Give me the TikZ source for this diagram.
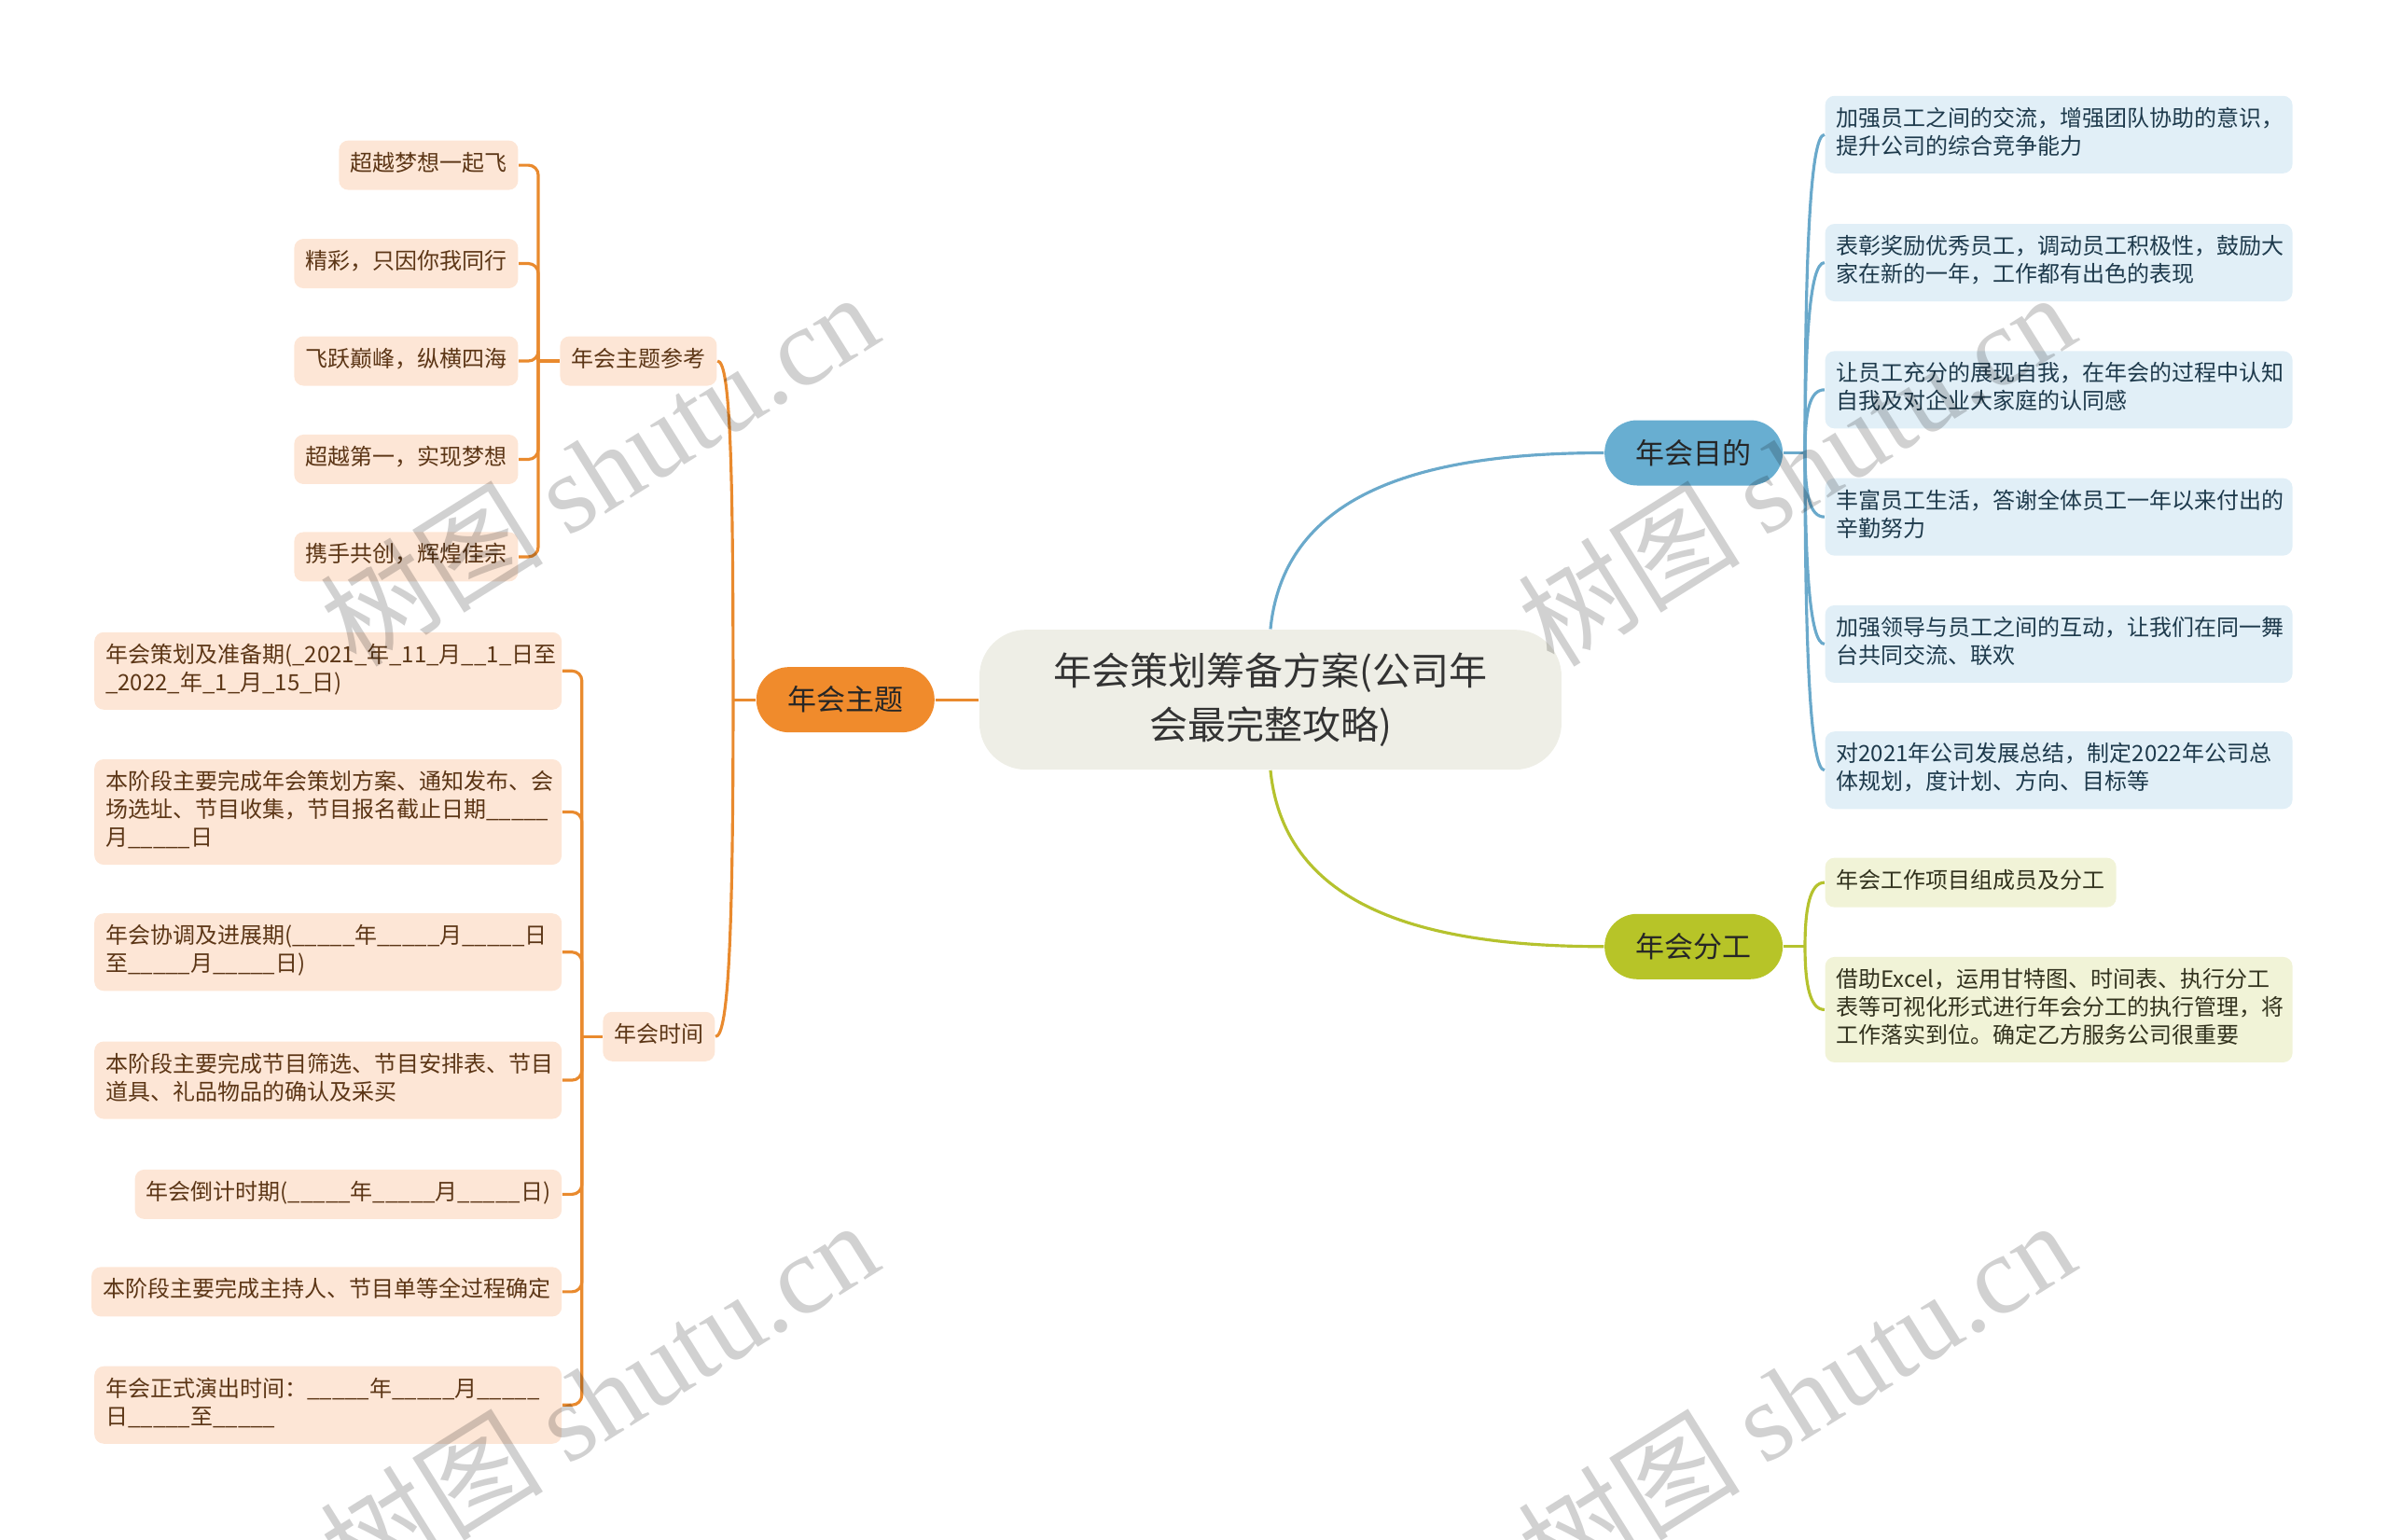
\documentclass[tikz,border=0pt]{standalone}
\usepackage{fontspec}
\setmainfont{Noto Sans CJK SC}
\newfontfamily\wmfont{Liberation Serif}
\usepackage{tikz}
\usetikzlibrary{positioning}
\setlength{\parindent}{0pt}
\definecolor{rootfill}{RGB}{238, 238, 230}
\definecolor{themecolor}{RGB}{240, 139, 44}
\definecolor{themeedge}{RGB}{233, 138, 46}
\definecolor{themelight}{RGB}{253, 230, 214}
\definecolor{themetext}{RGB}{92, 54, 22}
\definecolor{goalcolor}{RGB}{104, 174, 209}
\definecolor{goaledge}{RGB}{106, 169, 203}
\definecolor{goallight}{RGB}{225, 239, 247}
\definecolor{goaltext}{RGB}{30, 58, 76}
\definecolor{taskcolor}{RGB}{183, 196, 40}
\definecolor{taskedge}{RGB}{181, 194, 46}
\definecolor{tasklight}{RGB}{241, 243, 215}
\definecolor{tasktext}{RGB}{50, 50, 30}
\newcommand{\blk}{\_\_\_\_\_}

\begin{document}
\begin{tikzpicture}[
    x=0.00995cm, y=-0.00995cm,
    root/.style={fill=rootfill, rounded corners=0.5cm, minimum width=6.24cm, minimum height=1.5cm, align=center, text=black!80, font=\fontsize{11.67pt}{16.5pt}\selectfont},
    hub/.style={rounded corners=0.35cm, minimum width=1.91cm, minimum height=0.7cm, text=black!85, font=\fontsize{8.82pt}{10pt}\selectfont},
    leaf/.style={rounded corners=0.1cm, inner xsep=0.12cm, inner ysep=0.115cm, align=left, font=\fontsize{6.83pt}{8.54pt}\selectfont, execute at begin node=\strut, execute at end node=\strut},
    wide/.style={text width=4.77cm},
    themeleaf/.style={leaf, fill=themelight, text=themetext},
    goalleaf/.style={leaf, wide, fill=goallight, text=goaltext},
    taskleaf/.style={leaf, fill=tasklight, text=tasktext},
    themeline/.style={draw=themeedge, line width=0.9pt, rounded corners=3pt},
    goalline/.style={draw=goaledge, line width=0.9pt},
    taskline/.style={draw=taskedge, line width=0.9pt},
    watermark/.style={rotate=32, text=black, text opacity=0.18, font=\fontsize{34pt}{40pt}\selectfont}
]
    \useasboundingbox (0cm,0cm) rectangle (25.6cm,-16.5cm);

    % Root and main branches
    \node[root] (root) at (1369,754) {年会策划筹备方案(公司年\\会最完整攻略)};
    \node[hub, fill=themecolor] (theme) at (911,754) {年会主题};
    \node[hub, fill=goalcolor] (goal) at (1825,488) {年会目的};
    \node[hub, fill=taskcolor] (task) at (1825,1020) {年会分工};

    % Theme sub-branches
    \node[themeleaf] (ref) at (688,389) {年会主题参考};
    \node[themeleaf] (time) at (710,1117) {年会时间};

    % Theme references
    \node[themeleaf, anchor=east] (r1) at (559,178) {超越梦想一起飞};
    \node[themeleaf, anchor=east] (r2) at (559,284) {精彩，只因你我同行};
    \node[themeleaf, anchor=east] (r3) at (559,389) {飞跃巅峰，纵横四海};
    \node[themeleaf, anchor=east] (r4) at (559,495) {超越第一，实现梦想};
    \node[themeleaf, anchor=east] (r5) at (559,600) {携手共创，辉煌佳宗};

    % Time schedule
    \node[themeleaf, wide, anchor=east] (t1) at (606,723) {年会策划及准备期(\_2021\_年\_11\_月\_\_1\_日至\\\_2022\_年\_1\_月\_15\_日)};
    \node[themeleaf, wide, anchor=east] (t2) at (606,875) {本阶段主要完成年会策划方案、通知发布、会\\场选址、节目收集，节目报名截止日期\blk\\月\blk 日};
    \node[themeleaf, wide, anchor=east] (t3) at (606,1026) {年会协调及进展期(\blk 年\blk 月\blk 日\\至\blk 月\blk 日)};
    \node[themeleaf, wide, anchor=east] (t4) at (606,1164) {本阶段主要完成节目筛选、节目安排表、节目\\道具、礼品物品的确认及采买};
    \node[themeleaf, anchor=east] (t5) at (606,1287) {年会倒计时期(\blk 年\blk 月\blk 日)};
    \node[themeleaf, anchor=east] (t6) at (606,1392) {本阶段主要完成主持人、节目单等全过程确定};
    \node[themeleaf, wide, anchor=east] (t7) at (606,1514) {年会正式演出时间：\blk 年\blk 月\blk\\日\blk 至\blk};

    % Goals
    \node[goalleaf, anchor=west] (g1) at (1966,145) {加强员工之间的交流，增强团队协助的意识，\\提升公司的综合竞争能力};
    \node[goalleaf, anchor=west] (g2) at (1966,283) {表彰奖励优秀员工，调动员工积极性，鼓励大\\家在新的一年，工作都有出色的表现};
    \node[goalleaf, anchor=west] (g3) at (1966,420) {让员工充分的展现自我，在年会的过程中认知\\自我及对企业大家庭的认同感};
    \node[goalleaf, anchor=west] (g4) at (1966,557) {丰富员工生活，答谢全体员工一年以来付出的\\辛勤努力};
    \node[goalleaf, anchor=west] (g5) at (1966,694) {加强领导与员工之间的互动，让我们在同一舞\\台共同交流、联欢};
    \node[goalleaf, anchor=west] (g6) at (1966,830) {对2021年公司发展总结，制定2022年公司总\\体规划，度计划、方向、目标等};

    % Tasks
    \node[taskleaf, anchor=west] (k1) at (1966,951) {年会工作项目组成员及分工};
    \node[taskleaf, wide, anchor=west] (k2) at (1966,1088) {借助Excel，运用甘特图、时间表、执行分工\\表等可视化形式进行年会分工的执行管理，将\\工作落实到位。确定乙方服务公司很重要};

    % Junctions
    \coordinate (jt) at (790,754);
    \coordinate (jr) at (580,389);
    \coordinate (jm) at (627,1117);
    \coordinate (jg) at (1945,488);
    \coordinate (jk) at (1945,1020);

    % Root links
    \draw[themeline] (root.west) -- (theme.east);
    \draw[goalline] (root.north) .. controls +(15,-150) and +(-190,0) .. (goal.west);
    \draw[taskline] (root.south) .. controls +(15,150) and +(-190,0) .. (task.west);

    % Theme links
    \draw[themeline] (theme.west) -- (jt);
    \draw[themeline] (jt) .. controls +(0,-250) and +(14,0) .. (ref.east);
    \draw[themeline] (jt) .. controls +(0,250) and +(14,0) .. (time.east);
    \draw[themeline] (ref.west) -- (jr);
    \foreach \n in {r1,r2,r3,r4,r5}
        \draw[themeline] (jr) |- (\n.east);
    \draw[themeline] (time.west) -- (jm);
    \foreach \n in {t1,t2,t3,t4,t5,t6,t7}
        \draw[themeline] (jm) |- (\n.east);

    % Goal links
    \draw[goalline] (goal.east) -- (jg);
    \foreach \n/\d in {g1/-200,g2/-120,g3/-45,g4/45,g5/120,g6/200}
        \draw[goalline] (jg) .. controls +(0,\d) and +(-16,0) .. (\n.west);

    % Task links
    \draw[taskline] (task.east) -- (jk);
    \draw[taskline] (jk) .. controls +(0,-40) and +(-16,0) .. (k1.west);
    \draw[taskline] (jk) .. controls +(0,40) and +(-16,0) .. (k2.west);

    % Watermarks
    \foreach \wx/\wy [count=\i] in {645/505, 1935/505, 645/1505, 1935/1505}
        \node[watermark] (wm\i) at (\wx,\wy) {树图 {\wmfont shutu.cn}};
\end{tikzpicture}
\end{document}
